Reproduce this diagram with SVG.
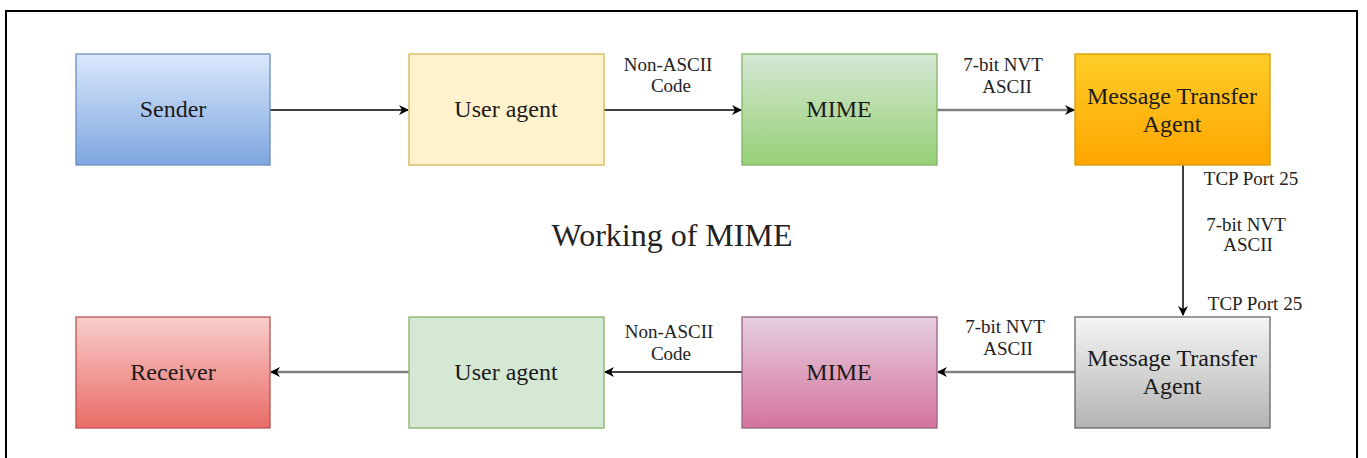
<svg xmlns="http://www.w3.org/2000/svg" width="1367" height="458" viewBox="0 0 1367 458">
<defs>
<linearGradient id="gBlue" x1="0" y1="0" x2="0" y2="1"><stop offset="0" stop-color="#dae8fc"/><stop offset="1" stop-color="#7ea6e0"/></linearGradient>
<linearGradient id="gGreen" x1="0" y1="0" x2="0" y2="1"><stop offset="0" stop-color="#d5e8d4"/><stop offset="1" stop-color="#97d077"/></linearGradient>
<linearGradient id="gOrange" x1="0" y1="0" x2="0" y2="1"><stop offset="0" stop-color="#ffcd28"/><stop offset="1" stop-color="#ffa500"/></linearGradient>
<linearGradient id="gRed" x1="0" y1="0" x2="0" y2="1"><stop offset="0" stop-color="#f8cecc"/><stop offset="1" stop-color="#ea6b66"/></linearGradient>
<linearGradient id="gPink" x1="0" y1="0" x2="0" y2="1"><stop offset="0" stop-color="#e6d0de"/><stop offset="1" stop-color="#d5739d"/></linearGradient>
<linearGradient id="gGray" x1="0" y1="0" x2="0" y2="1"><stop offset="0" stop-color="#f5f5f5"/><stop offset="1" stop-color="#b3b3b3"/></linearGradient>
<marker id="arr" viewBox="0 0 10 10" refX="9" refY="5" markerWidth="10" markerHeight="10" markerUnits="userSpaceOnUse" orient="auto">
<path d="M0,0 L10,5 L0,10 L3,5 Z" fill="#000"/>
</marker>
</defs>
<style>
.node rect{stroke-width:1.3}
text{font-family:"Liberation Serif",Tinos,"DejaVu Serif",serif}
.lbl{font-size:24px;fill:#1a1a1a;text-anchor:middle}
.elbl{font-size:19px;fill:#222;text-anchor:middle}
.title{font-size:32px;fill:#222;text-anchor:middle}
.edge{fill:none;stroke:#000;stroke-width:1.5;marker-end:url(#arr)}
.edge.gray{stroke:#808080;stroke-width:2.5}
</style>
<rect width="1367" height="458" fill="#fff"/>
<path d="M6,458 V11 H1357 V458" fill="none" stroke="#000" stroke-width="2"/>

<g id="connectors">
<path class="edge" d="M270,110 H408"/>
<path class="edge" d="M604,110 H741"/>
<path class="edge gray" d="M937,110 H1074"/>
<path class="edge" d="M1183,165 V315"/>
<path class="edge gray" d="M1075,372 H938"/>
<path class="edge" d="M742,372 H605"/>
<path class="edge gray" d="M409,372 H271"/>
</g>

<g id="edge-labels">
<text class="elbl" x="668" y="71">Non-ASCII</text>
<text class="elbl" x="671" y="92">Code</text>
<text class="elbl" x="1003" y="71">7-bit NVT</text>
<text class="elbl" x="1007" y="93">ASCII</text>
<text class="elbl" x="1251" y="185">TCP Port 25</text>
<text class="elbl" x="1246" y="231">7-bit NVT</text>
<text class="elbl" x="1248" y="251">ASCII</text>
<text class="elbl" x="1255" y="310">TCP Port 25</text>
<text class="elbl" x="669" y="338">Non-ASCII</text>
<text class="elbl" x="671" y="360">Code</text>
<text class="elbl" x="1005" y="333">7-bit NVT</text>
<text class="elbl" x="1008" y="355">ASCII</text>
</g>

<g id="sender" class="node"><rect x="76" y="54" width="194" height="111" fill="url(#gBlue)" stroke="#6c8ebf"/><text class="lbl" x="173" y="117">Sender</text></g>
<g id="ua-top" class="node"><rect x="409" y="54" width="195" height="111" fill="#fff2cc" stroke="#d6b656"/><text class="lbl" x="506" y="117">User agent</text></g>
<g id="mime-top" class="node"><rect x="742" y="54" width="195" height="111" fill="url(#gGreen)" stroke="#82b366"/><text class="lbl" x="839" y="117">MIME</text></g>
<g id="mta-top" class="node"><rect x="1075" y="54" width="195" height="111" fill="url(#gOrange)" stroke="#d79b00"/><text class="lbl" x="1172" y="104">Message Transfer</text><text class="lbl" x="1172" y="132">Agent</text></g>

<g id="receiver" class="node"><rect x="76" y="317" width="194" height="111" fill="url(#gRed)" stroke="#b85450"/><text class="lbl" x="173" y="380">Receiver</text></g>
<g id="ua-bottom" class="node"><rect x="409" y="317" width="195" height="111" fill="#d5e8d4" stroke="#82b366"/><text class="lbl" x="506" y="380">User agent</text></g>
<g id="mime-bottom" class="node"><rect x="742" y="317" width="195" height="111" fill="url(#gPink)" stroke="#996185"/><text class="lbl" x="839" y="380">MIME</text></g>
<g id="mta-bottom" class="node"><rect x="1075" y="317" width="195" height="111" fill="url(#gGray)" stroke="#666666"/><text class="lbl" x="1172" y="366">Message Transfer</text><text class="lbl" x="1172" y="394">Agent</text></g>

<text class="title" x="672" y="246">Working of MIME</text>
</svg>
